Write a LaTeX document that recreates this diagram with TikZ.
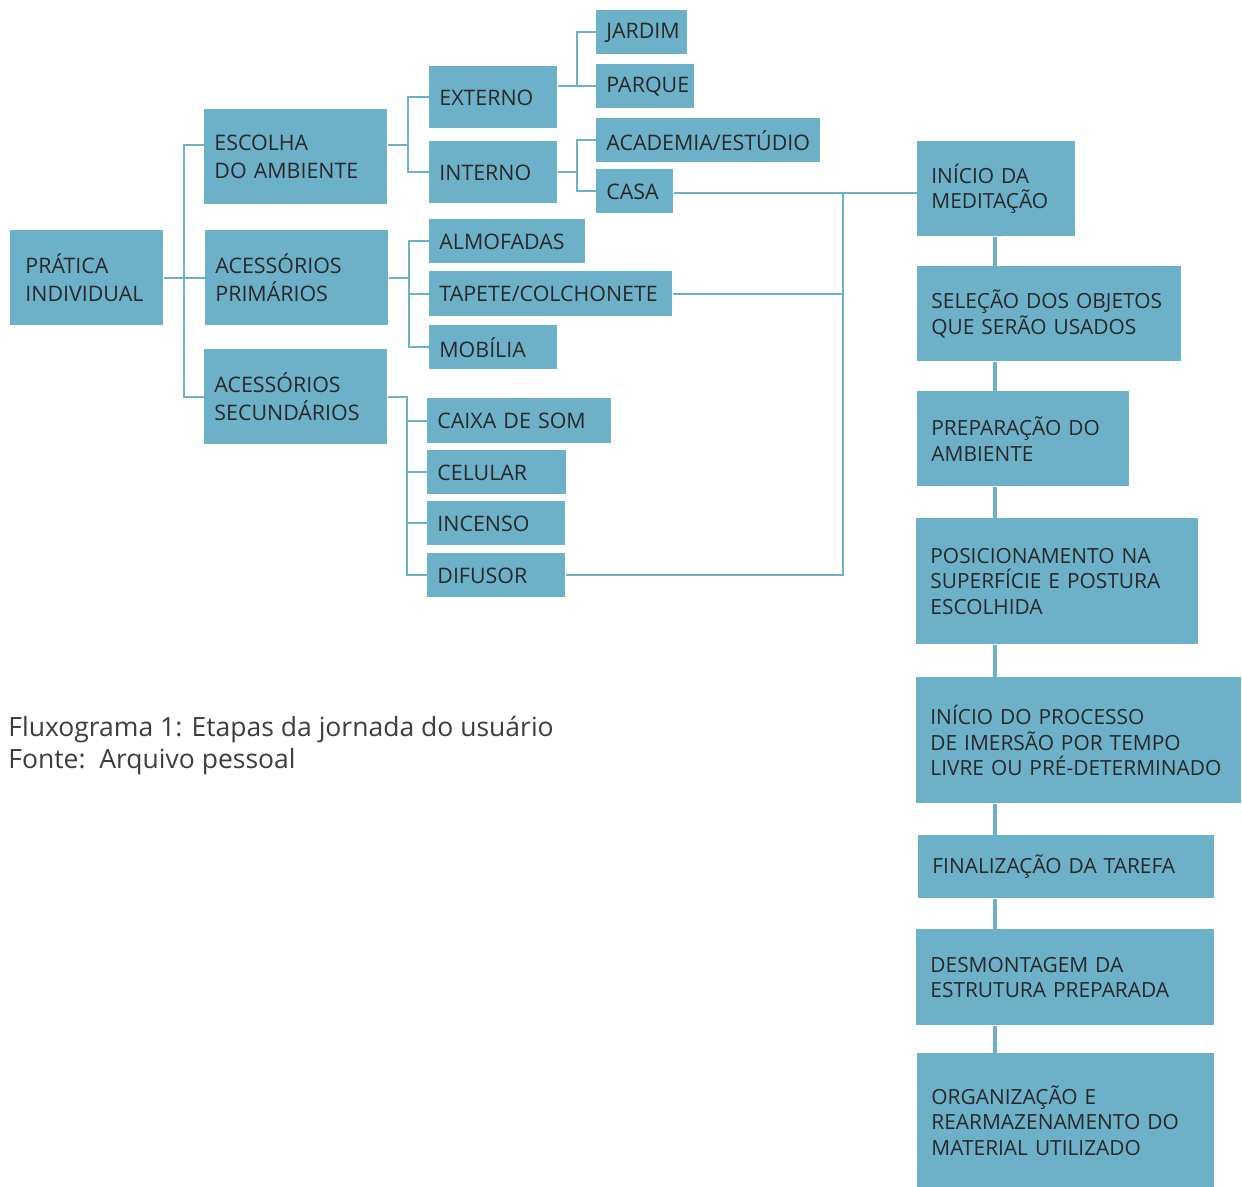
\documentclass[tikz,border=0pt]{standalone}
\usepackage{fontspec}
\setmainfont{Open Sans}
\usepackage{tikz}
\usetikzlibrary{calc}
\definecolor{boxblue}{HTML}{6DB1C9}
\definecolor{ink}{HTML}{282828}

\begin{document}
\begin{tikzpicture}
[x=0.5pt, y=-0.5pt,
tree/.style={fill=boxblue, text=ink, anchor=north west, align=left, inner xsep=5pt, inner ysep=0pt, font=\fontsize{10.7}{14}\selectfont, execute at begin node={\hyphenpenalty=10000\exhyphenpenalty=10000}},
stage/.style={fill=boxblue, text=ink, anchor=north west, align=left, inner xsep=7pt, inner ysep=0pt, font=\fontsize{10.45}{12.75}\selectfont, execute at begin node={\hyphenpenalty=10000\exhyphenpenalty=10000}},
link/.style={boxblue, line width=1pt},
flow/.style={boxblue, line width=2.2pt}]
\useasboundingbox (0,0) rectangle (1242,1187);
% tree on the left
\node[tree, inner xsep=7.5pt, text width=61.5pt, minimum height=47.5pt] (prat) at (10,230) {PRÁTICA\\INDIVIDUAL};
\node[tree, text width=81.5pt, minimum height=47.5pt] (esc) at (204,109) {ESCOLHA\\DO AMBIENTE};
\node[tree, text width=81.5pt, minimum height=47.5pt] (prim) at (205,230) {ACESSÓRIOS\\PRIMÁRIOS};
\node[tree, text width=81.5pt, minimum height=47.5pt] (sec) at (204,349) {ACESSÓRIOS\\SECUNDÁRIOS};
\node[tree, text width=54pt, minimum height=31pt] (ext) at (429,66) {EXTERNO};
\node[tree, text width=54pt, minimum height=31pt] (int) at (429,141) {INTERNO};
\node[tree, text width=35.5pt, minimum height=22pt] (jard) at (596,10) {JARDIM};
\node[tree, text width=39pt, minimum height=22pt] (parq) at (596,64) {PARQUE};
\node[tree, text width=102pt, minimum height=22pt] (acad) at (596,118) {ACADEMIA/ESTÚDIO};
\node[tree, text width=28.5pt, minimum height=22pt] (casa) at (596,169) {CASA};
\node[tree, text width=68pt, minimum height=22pt] (almo) at (429,219) {ALMOFADAS};
\node[tree, text width=111.5pt, minimum height=22.5pt] (tap) at (429,271) {TAPETE/COLCHONETE};
\node[tree, text width=54pt, minimum height=22pt] (mob) at (429,325) {MOBÍLIA};
\node[tree, text width=82pt, minimum height=22.5pt] (caixa) at (427,398) {CAIXA DE SOM};
\node[tree, text width=59.5pt, minimum height=22pt] (cel) at (427,450) {CELULAR};
\node[tree, text width=59pt, minimum height=22pt] (inc) at (427,501) {INCENSO};
\node[tree, text width=59pt, minimum height=22pt] (dif) at (427,553) {DIFUSOR};
% steps on the right
\node[stage, text width=65pt, minimum height=47.5pt] (med1) at (917,141) {INÍCIO DA\\MEDITAÇÃO};
\node[stage, text width=118pt, minimum height=47.5pt] (med2) at (917,266) {SELEÇÃO DOS OBJETOS\\QUE SERÃO USADOS};
\node[stage, text width=92pt, minimum height=47.5pt] (med3) at (917,391) {PREPARAÇÃO DO\\AMBIENTE};
\node[stage, text width=127pt, minimum height=63pt] (med4) at (916,518) {POSICIONAMENTO NA\\SUPERFÍCIE E POSTURA\\ESCOLHIDA};
\node[stage, text width=148.5pt, minimum height=63pt] (med5) at (916,677) {INÍCIO DO PROCESSO\\DE IMERSÃO POR TEMPO\\LIVRE OU PRÉ-DETERMINADO};
\node[stage, text width=134pt, minimum height=31.5pt] (med6) at (918,835) {FINALIZAÇÃO DA TAREFA};
\node[stage, text width=135pt, minimum height=48pt] (med7) at (916,929) {DESMONTAGEM DA\\ESTRUTURA PREPARADA};
\node[stage, text width=134.5pt, minimum height=67pt] (med8) at (917,1053) {ORGANIZAÇÃO E\\REARMAZENAMENTO DO\\MATERIAL UTILIZADO};
% caption
\node[anchor=north west, align=left, inner sep=0pt, text=ink!90, font=\fontsize{13.25}{16}\selectfont] (cap) at (8,716) {Fluxograma 1: Etapas da jornada do usuário\\Fonte:\ \ Arquivo pessoal};
% connectors
\coordinate (b1) at ($(prat.east)!0.5!(prim.west)$);
\coordinate (b2) at ($(esc.east)!0.5!(ext.west)$);
\coordinate (b3) at ($(ext.east)!0.5!(parq.west)$);
\coordinate (b4) at ($(int.east)!0.5!(acad.west)$);
\coordinate (b5) at ($(prim.east)!0.5!(almo.west)$);
\coordinate (b6) at ($(sec.east)!0.5!(caixa.west)$);
\coordinate (col) at (843,0);
\coordinate (spine) at (995,0);
\draw[link] (prat.east) -- (prim.west);
\draw[link] ([yshift=6pt]esc.west) -| (b1 |- sec.west) -- (sec.west);
\draw[link] ([yshift=6pt]esc.east) -- ([yshift=6pt]b2 |- esc.east);
\draw[link] (ext.west) -| (b2 |- int.west) -- (int.west);
\draw[link] (ext.east |- parq.west) -- (parq.west);
\draw[link] (jard.west) -| (b3 |- parq.west);
\draw[link] (int.east) -- (b4 |- int.east);
\draw[link] (acad.west) -| (b4 |- casa.west) -- (casa.west);
\draw[link] (prim.east) -- (b5 |- prim.east);
\draw[link] (almo.west) -| (b5 |- mob.west) -- (mob.west);
\draw[link] (b5 |- tap.west) -- (tap.west);
\draw[link] (sec.east) -| (b6 |- dif.west) -- (dif.west);
\draw[link] (b6 |- caixa.west) -- (caixa.west);
\draw[link] (b6 |- cel.west) -- (cel.west);
\draw[link] (b6 |- inc.west) -- (inc.west);
\draw[link] ([yshift=-1pt]casa.east) -- ([yshift=-1pt]casa.east -| med1.west);
\draw[link] ([yshift=-1pt]casa.east -| col) -- (col |- dif.east) -- (dif.east);
\draw[link] (tap.east) -- (tap.east -| col);
\draw[flow] (spine |- med1.south) -- (spine |- med2.north);
\draw[flow] (spine |- med2.south) -- (spine |- med3.north);
\draw[flow] (spine |- med3.south) -- (spine |- med4.north);
\draw[flow] (spine |- med4.south) -- (spine |- med5.north);
\draw[flow] (spine |- med5.south) -- (spine |- med6.north);
\draw[flow] (spine |- med6.south) -- (spine |- med7.north);
\draw[flow] (spine |- med7.south) -- (spine |- med8.north);
\end{tikzpicture}
\end{document}
